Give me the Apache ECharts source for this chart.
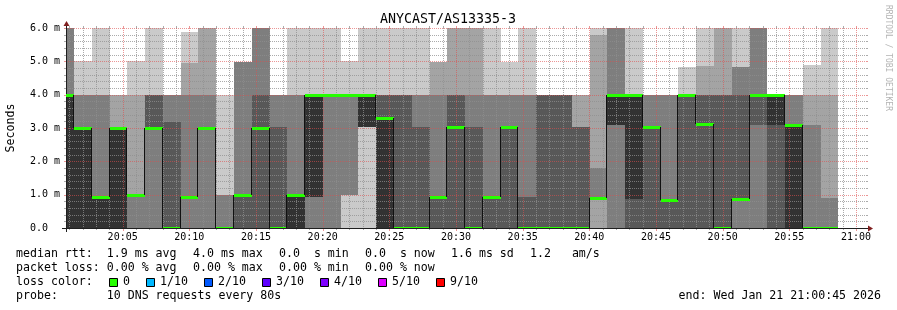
<!DOCTYPE html>
<html>
<head>
<meta charset="utf-8">
<script src="https://cdn.jsdelivr.net/npm/echarts@6/dist/echarts.min.js"></script>
<style>
html,body{margin:0;padding:0;background:#fff;}
#chart{width:897px;height:310px;}
</style>
</head>
<body>
<div id="chart"></div>
<script>
// ---- time layout (seconds after 20:00:00) ----
const axisMin = 45;          // 20:00:45
const axisMax = 3645;        // 21:00:45
const firstStart = 81;       // start of first full sample column (20:01:21)
const step = 80;             // seconds per sample
const labelTicks = [300,600,900,1200,1500,1800,2100,2400,2700,3000,3300,3600];

// ---- sorted ping values per sample (ms), column 0 is the partial one at the left ----
const ping1  = [0,0,0,0,0,0,0,0,0,0, 0,0,0,0,0,0,0,0,0,0, 0,0,0,0,0,0,0,0,0,0, 0,0,0,0,0,0,0,0,0,0, 0,0,0,0];
const ping2  = [0,0,0,0,0,0,0,0,0,0, 0,0,0,0,0,0,1,3.04,0,0, 0,0,0,0,0,0,0,0,0,0, 0,0,0,0,0,0,0,0,0,0, 0,0,0,0];
const ping3  = [0,0,0,0,0,0,0,0,0,0, 0,0,0,0,0,0,1,3.04,0,0, 0,0,0,0,0,0,0,0,0,0, 0.9,0,0,0,0,0,0,0,0,0, 0,0,0,0];
const ping4  = [0,0,0,0,1,3,0,0.94,3,0, 0,0,0,0,0.94,4,4,3.04,0,0, 0,0,0,0,0,0,0,0,0,0, 0.9,3.1,0,0,0,0,0,0,0.87,3.1, 0,0,0,0];
const ping5  = [0,0,0,0,1,3,0,0.94,3,0, 1,3,0,0,0.94,4,4,3.04,0,0, 0,0.94,3.04,0,0.94,3.04,0,0,0,0, 0.9,3.1,0.87,3.04,0.84,4,3.12,0,0.87,4, 3.1,0,0,0];
const ping6  = [4,3,0.94,3,1,3,0,0.94,3,0, 1,3,0,1,4,4,4,4,3.3,0, 0,0.94,3.04,0,0.94,3.04,0,0,0,0, 0.9,4,4,3.04,0.84,4,3.12,0,0.87,4, 4,3.1,0,0];
const ping7  = [4,3,0.94,3,1,4,3.18,0.94,3,0, 1,4,3.04,1,4,4,4,4,4,4, 3.04,0.94,4,3.04,0.94,3.04,0.94,4,4,3.04, 0.9,4,4,3.04,0.84,4,4,4,4,4, 4,3.1,0,0];
const ping8  = [6,4,4,3,1,4,4,4,4,1, 4.97,6,4,4,4,4,4,4,4,4, 4,4,4,4,4,4,4,4,4,3.04, 1.8,6,4,4,4,4,4,4,4.84,6, 4,4,3.1,0.9];
const ping9  = [6,4,4,4,4,4,4,4.94,6,1, 4.97,6,4,4,4,4,4,4,4,4, 4,4.97,6,6,4,4,4,4,4,4, 5.79,6,4,4,4,4,4.87,6,4.84,6, 4,4,4,4];
const ping10 = [6,5,6,4,5,6,4,5.88,6,4, 4.97,6,4,6,6,6,5,6,6,6, 6,4.97,6,6,6,4.97,6,4,4,4, 6,6,6,4,4,4.82,6,6,6,6, 4,4,4.9,6];
const median = [4,3,0.94,3,1,3,0,0.94,3,0, 1,3,0,1,4,4,4,4,3.3,0, 0,0.94,3.04,0,0.94,3.04,0,0,0,0, 0.9,4,4,3.04,0.84,4,3.12,0,0.87,4, 4,3.1,0,0];

// ---- legend texts ----
const rttStats  = ['median rtt:  1.9 ms avg','4.0 ms max','0.0  s min','0.0  s now','1.6 ms sd','1.2   am/s'];
const lossStats = ['packet loss: 0.00 % avg','0.00 % max','0.00 % min','0.00 % now'];
const lossLabels = ['0','1/10','2/10','3/10','4/10','5/10','9/10'];
const lossColors = ['#26ff00','#00b8ff','#0059ff','#5e00ff','#7e00ff','#dd00ff','#ff0000'];

const SMOKE = ['#cacaca','#a4a4a4','#7e7e7e','#585858','#323232'];
const pings = [ping1,ping2,ping3,ping4,ping5,ping6,ping7,ping8,ping9,ping10];
const MONO = 'DejaVu Sans Mono';

const nCols = ping1.length;
const colStart = k => (k === 0 ? firstStart - step : firstStart + step * (k - 1));

const smokeData = [];
const medData = [];
for (let k = 0; k < nCols; k++) {
  const s = colStart(k), e = s + step;
  smokeData.push([s, e].concat(pings.map(p => p[k])));
  medData.push([s, e, median[k], k > 0 ? median[k - 1] : NaN]);
}

function colX(api, cs, s, e) {
  const xa = Math.round(Math.max(api.coord([s, 0])[0], cs.x));
  const xb = Math.round(Math.min(api.coord([e, 0])[0], cs.x + cs.width));
  return [xa, xb];
}

const chart = echarts.init(document.getElementById('chart'), null, {renderer: 'canvas'});

const GRID = 'rgba(143,143,143,0.75)';
const MGRID = 'rgba(222,79,79,0.6)';

const graphic = [];
graphic.push({type:'text', x:448, y:19.5, style:{text:'ANYCAST/AS13335-3', align:'center', verticalAlign:'middle', fontSize:13.3, fontFamily:MONO, fill:'#000'}});
graphic.push({type:'text', x:11, y:128, rotation:Math.PI/2, style:{text:'Seconds', align:'center', verticalAlign:'middle', fontSize:11.6, fontFamily:MONO, fill:'#000'}});
graphic.push({type:'text', x:888, y:5, rotation:-Math.PI/2, style:{text:'RRDTOOL / TOBI OETIKER', align:'left', verticalAlign:'middle', fontSize:8, fontFamily:MONO, fill:'#b4b4b4'}});
const colXs = [16,193,279,365,451,530];
rttStats.forEach((t,i) => graphic.push({type:'text', x:colXs[i], y:254, style:{text:t, verticalAlign:'middle', fontSize:11.6, fontFamily:MONO, fill:'#000'}}));
lossStats.forEach((t,i) => graphic.push({type:'text', x:colXs[i], y:268, style:{text:t, verticalAlign:'middle', fontSize:11.6, fontFamily:MONO, fill:'#000'}}));
graphic.push({type:'text', x:16, y:282, style:{text:'loss color:', verticalAlign:'middle', fontSize:11.6, fontFamily:MONO, fill:'#000'}});
let lx = 109;
lossLabels.forEach((t,i) => {
  graphic.push({type:'rect', shape:{x:lx+0.5, y:278.5, width:8, height:8}, style:{fill:lossColors[i], stroke:'#000', lineWidth:1}});
  graphic.push({type:'text', x:lx+14, y:282, style:{text:t, verticalAlign:'middle', fontSize:11.6, fontFamily:MONO, fill:'#000'}});
  lx += 14 + t.length * 7 + 16;
});
graphic.push({type:'text', x:16, y:296, style:{text:'probe:       10 DNS requests every 80s', verticalAlign:'middle', fontSize:11.6, fontFamily:MONO, fill:'#000'}});
graphic.push({type:'text', x:881, y:296, style:{text:'end: Wed Jan 21 21:00:45 2026', align:'right', verticalAlign:'middle', fontSize:11.6, fontFamily:MONO, fill:'#000'}});

const option = {
  animation: false,
  backgroundColor: '#ffffff',
  grid: {left: 66, top: 28, width: 800, height: 200, containLabel: false, outerBoundsMode: 'none'},
  xAxis: {
    type: 'value', min: axisMin, max: axisMax,
    axisLine: {show: false}, axisTick: {show: false, customValues: labelTicks}, splitLine: {show: false},
    axisLabel: {
      customValues: labelTicks, margin: 4, fontFamily: MONO, fontSize: 10, color: '#000',
      formatter: v => { const m = Math.round(v / 60); const hh = 20 + Math.floor(m / 60); const mm = m % 60; return hh + ':' + (mm < 10 ? '0' : '') + mm; }
    }
  },
  yAxis: {
    type: 'value', min: 0, max: 6, interval: 1,
    axisLine: {show: false}, axisTick: {show: false}, splitLine: {show: false},
    axisLabel: {margin: 6, fontFamily: MONO, fontSize: 10, color: '#000',
      formatter: v => (v === 0 ? '0.0  ' : v.toFixed(1) + ' m')}
  },
  graphic: graphic,
  series: [
    {
      type: 'custom', name: 'smoke', silent: true, z: 2,
      encode: {x: [0, 1], y: [2, 3, 4, 5, 6, 7, 8, 9, 10, 11]},
      data: smokeData,
      renderItem: function (params, api) {
        const cs = params.coordSys;
        const s = api.value(0), e = api.value(1);
        const [xa, xb] = colX(api, cs, s, e);
        const children = [];
        for (let b = 0; b < 5; b++) {
          const lo = api.value(2 + b), hi = api.value(11 - b);
          if (!(hi > lo)) continue;
          const ylo = Math.round(api.coord([s, lo])[1]);
          const yhi = Math.round(api.coord([s, hi])[1]);
          if (ylo <= yhi) continue;
          children.push({type: 'rect', shape: {x: xa, y: yhi, width: xb - xa, height: ylo - yhi}, style: {fill: SMOKE[b]}});
        }
        return {type: 'group', children: children};
      }
    },
    {
      type: 'custom', name: 'grid', silent: true, z: 3,
      data: [[axisMin, 0]],
      renderItem: function (params, api) {
        const cs = params.coordSys;
        const top = cs.y, bot = cs.y + cs.height, left = cs.x, right = cs.x + cs.width;
        const ch = [];
        const ln = (x1, y1, x2, y2, c, dash) => ch.push({type: 'line', shape: {x1, y1, x2, y2}, style: {stroke: c, lineWidth: 1, lineDash: dash || null}});
        // vertical grid, every minute, major every 5 minutes
        for (let t = 60; t <= 3600; t += 60) {
          if (t < axisMin || t > axisMax) continue;
          const x = Math.round(api.coord([t, 0])[0]) + 0.5;
          const major = t % 300 === 0;
          const c = major ? MGRID : GRID;
          ln(x, top - 2, x, top, c);
          ln(x, bot, x, bot + (major ? 3 : 2), c);
          ln(x, top, x, bot, c, [1, 1]);
        }
        // horizontal grid, every 0.2 ms, major every 1 ms
        for (let i = 1; i <= 30; i++) {
          const v = i / 5;
          const y = Math.round(api.coord([axisMin, v])[1]) + 0.5;
          const major = i % 5 === 0;
          const c = major ? MGRID : GRID;
          ln(left - 2, y, left, y, c);
          ln(right, y, right + 2, y, c);
          ln(left, y, right, y, c, [1, 1]);
        }
        // axes
        const yb = bot + 0.5, xl = left + 0.5;
        ln(left - 4, yb, right + 4, yb, '#1f1f1f');
        ln(xl, bot + 4, xl, top - 4, '#1f1f1f');
        ch.push({type: 'polygon', shape: {points: [[right + 2, bot - 3 + 0.5], [right + 2, bot + 3 + 0.5], [right + 7, bot + 0.5]]}, style: {fill: '#801f1f'}});
        ch.push({type: 'polygon', shape: {points: [[left - 3 + 0.5, top - 2], [left + 3 + 0.5, top - 2], [left + 0.5, top - 7]]}, style: {fill: '#801f1f'}});
        return {type: 'group', children: ch};
      }
    },
    {
      type: 'custom', name: 'median', silent: true, z: 4,
      encode: {x: [0, 1], y: [2]},
      data: medData,
      renderItem: function (params, api) {
        const cs = params.coordSys;
        const s = api.value(0), e = api.value(1), m = api.value(2), pm = api.value(3);
        const [xa, xb] = colX(api, cs, s, e);
        const bot = cs.y + cs.height;
        const ym = Math.round(api.coord([s, m])[1]);
        const ch = [];
        if (!isNaN(pm) && pm !== m) {
          const yp = Math.round(api.coord([s, pm])[1]);
          ch.push({type: 'line', shape: {x1: xa - 0.5, y1: Math.min(yp, ym), x2: xa - 0.5, y2: Math.max(yp, ym)}, style: {stroke: '#111111', lineWidth: 1}});
        }
        const gt = ym - 1, gb = Math.min(ym + 2, bot);
        ch.push({type: 'rect', shape: {x: xa, y: gt, width: xb - xa, height: gb - gt}, style: {fill: '#26ff00'}});
        return {type: 'group', children: ch};
      }
    }
  ]
};
chart.setOption(option);
</script>
</body>
</html>
